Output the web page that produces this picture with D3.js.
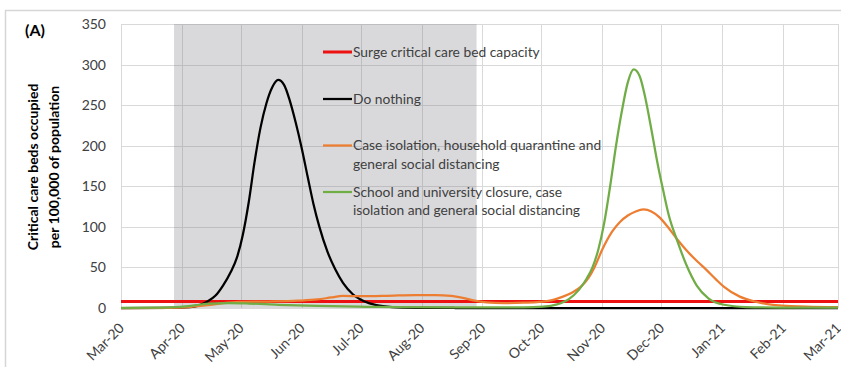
<!DOCTYPE html>
<html>
<head>
<meta charset="utf-8">
<script src="https://cdn.jsdelivr.net/npm/d3@7/dist/d3.min.js"></script>
<style>
  html, body { margin: 0; padding: 0; background: #fff; }
  svg { display: block; }
  text { font-family: Lato, "Noto Sans", sans-serif; }
</style>
</head>
<body>
<svg id="chart" width="841" height="367"></svg>
<script>
// ---- data -------------------------------------------------------------
const monthTicks = ["2020-03-01","2020-04-01","2020-05-01","2020-06-01","2020-07-01","2020-08-01",
  "2020-09-01","2020-10-01","2020-11-01","2020-12-01","2021-01-01","2021-02-01","2021-03-01"];
const monthLabels = ["Mar-20","Apr-20","May-20","Jun-20","Jul-20","Aug-20","Sep-20","Oct-20",
  "Nov-20","Dec-20","Jan-21","Feb-21","Mar-21"];
const yTicks = [0, 50, 100, 150, 200, 250, 300, 350];

// intervention window (shaded)
const shadeWindow = ["2020-03-28", "2020-08-29"];

const surgeCapacity = 8;

const doNothing = [
  ["2020-03-01",0],["2020-03-26",0.2],["2020-04-05",1],["2020-04-10",3.5],["2020-04-14",8],
  ["2020-04-18",15],["2020-04-22",28],["2020-04-26",45],["2020-04-29",62],["2020-05-02",90],
  ["2020-05-05",130],["2020-05-08",180],["2020-05-11",222],["2020-05-14",252],["2020-05-17",272],
  ["2020-05-20",281],["2020-05-23",275],["2020-05-26",255],["2020-05-29",228],["2020-06-01",197],
  ["2020-06-04",162],["2020-06-07",128],["2020-06-10",100],["2020-06-14",70],["2020-06-18",48],
  ["2020-06-22",31],["2020-06-27",17],["2020-07-03",8],["2020-07-09",3.5],["2020-07-17",1.2],
  ["2020-07-29",0.3],["2020-08-18",0],["2021-03-01",0]
];

const caseIsolation = [
  ["2020-03-01",0],["2020-03-26",0.3],["2020-04-05",1.2],["2020-04-14",3.5],["2020-04-22",6],
  ["2020-04-30",7.5],["2020-05-15",8],["2020-05-30",9],["2020-06-09",10.5],["2020-06-16",13],
  ["2020-06-22",15],["2020-07-01",14.5],["2020-07-14",15],["2020-07-29",16],["2020-08-08",16],
  ["2020-08-16",15],["2020-08-22",12.5],["2020-08-28",9],["2020-09-03",7],["2020-09-12",6],
  ["2020-09-22",6.5],["2020-09-30",7.5],["2020-10-06",9.5],["2020-10-12",14],["2020-10-17",19.5],
  ["2020-10-21",26],["2020-10-25",37],["2020-10-28",50],["2020-11-01",72],["2020-11-06",94],
  ["2020-11-10",106],["2020-11-14",114],["2020-11-18",119],["2020-11-22",121.5],["2020-11-26",119],
  ["2020-11-30",112],["2020-12-04",101],["2020-12-09",85],["2020-12-15",68],["2020-12-20",56],
  ["2020-12-24",47],["2020-12-29",35],["2021-01-02",26],["2021-01-10",14],["2021-01-18",7.8],
  ["2021-01-27",3.8],["2021-02-05",2.4],["2021-02-13",1.6],["2021-03-01",1]
];

const schoolClosure = [
  ["2020-03-01",0.2],["2020-03-21",0.5],["2020-03-31",1.5],["2020-04-08",3.5],["2020-04-15",5.5],
  ["2020-04-25",6],["2020-05-05",5.5],["2020-05-20",4],["2020-06-09",2.5],["2020-07-04",1.5],
  ["2020-07-21",1],["2020-08-18",0.8],["2020-09-22",0.8],["2020-10-02",1.6],["2020-10-09",4.5],
  ["2020-10-15",11],["2020-10-20",22],["2020-10-24",36],["2020-10-27",50],["2020-10-30",72],
  ["2020-11-02",105],["2020-11-05",150],["2020-11-08",200],["2020-11-11",243],["2020-11-14",278],
  ["2020-11-17",294],["2020-11-20",286],["2020-11-23",258],["2020-11-26",220],["2020-11-29",180],
  ["2020-12-02",145],["2020-12-05",113],["2020-12-09",84],["2020-12-14",52],["2020-12-19",28],
  ["2020-12-25",12],["2021-01-02",4],["2021-01-13",1.2],["2021-01-30",0.6],["2021-03-01",0.4]
];

const legendItems = [
  { lines: ["Surge critical care bed capacity"], color: "#ee1111", width: 3 },
  { lines: ["Do nothing"], color: "#000000", width: 2.25 },
  { lines: ["Case isolation, household quarantine and", "general social distancing"], color: "#ed7d31", width: 2.25 },
  { lines: ["School and university closure, case", "isolation and general social distancing"], color: "#70ad47", width: 2.25 }
];

// ---- layout -----------------------------------------------------------
const parse = d3.utcParse("%Y-%m-%d");
const svg = d3.select("#chart");
const plot = { left: 121, right: 838, top: 24, bottom: 308 };

const x = d3.scaleUtc()
  .domain([parse(monthTicks[0]), parse(monthTicks[monthTicks.length - 1])])
  .range([plot.left, plot.right]);
const y = d3.scaleLinear().domain([0, 350]).range([plot.bottom, plot.top]);

// outer chart frame
svg.append("rect")
  .attr("x", 5.5).attr("y", 10.5).attr("width", 900).attr("height", 400)
  .attr("fill", "none").attr("stroke", "#d6d6d6").attr("stroke-width", 1.5);

// gridlines
const grid = svg.append("g").attr("stroke", "#d9d9d9").attr("stroke-width", 1);
grid.selectAll("line.h").data(yTicks).join("line")
  .attr("x1", plot.left).attr("x2", plot.right)
  .attr("y1", d => Math.round(y(d)) + 0.5).attr("y2", d => Math.round(y(d)) + 0.5);
grid.selectAll("line.v").data(monthTicks).join("line")
  .attr("x1", d => Math.round(x(parse(d))) + 0.5).attr("x2", d => Math.round(x(parse(d))) + 0.5)
  .attr("y1", plot.top).attr("y2", plot.bottom);

// intervention window
svg.append("rect")
  .attr("x", x(parse(shadeWindow[0])))
  .attr("y", plot.top)
  .attr("width", x(parse(shadeWindow[1])) - x(parse(shadeWindow[0])))
  .attr("height", plot.bottom - plot.top)
  .attr("fill", "#7c7c84").attr("fill-opacity", 0.29);

// y tick labels
svg.append("g").selectAll("text").data(yTicks).join("text")
  .attr("x", 106).attr("y", d => y(d)).attr("dy", "0.36em")
  .attr("text-anchor", "end").attr("font-size", 14).attr("fill", "#404040")
  .text(d => d);

// x tick labels (rotated)
svg.append("g").selectAll("text").data(monthTicks).join("text")
  .attr("transform", d => `translate(${x(parse(d)) + 4},329) rotate(-45)`)
  .attr("text-anchor", "end").attr("font-size", 14).attr("fill", "#404040")
  .text((d, i) => monthLabels[i]);

// y axis title
const yTitle = svg.append("text")
  .attr("transform", "translate(0,167) rotate(-90)")
  .attr("text-anchor", "middle").attr("font-size", 14).attr("font-weight", "bold").attr("fill", "#000");
yTitle.append("tspan").attr("x", 0).attr("y", 38).text("Critical care beds occupied");
yTitle.append("tspan").attr("x", 0).attr("y", 59).text("per 100,000 of population");

// panel label
svg.append("text").attr("x", 25).attr("y", 36)
  .attr("font-size", 16).attr("font-weight", "bold").attr("fill", "#000").text("(A)");

// series
const line = d3.line()
  .x(d => x(parse(d[0])))
  .y(d => y(d[1]))
  .curve(d3.curveMonotoneX);

svg.append("line")
  .attr("x1", plot.left).attr("x2", plot.right)
  .attr("y1", y(surgeCapacity)).attr("y2", y(surgeCapacity))
  .attr("stroke", legendItems[0].color).attr("stroke-width", legendItems[0].width);

const series = [doNothing, caseIsolation, schoolClosure];
series.forEach((s, i) => {
  svg.append("path").datum(s)
    .attr("d", line)
    .attr("fill", "none")
    .attr("stroke", legendItems[i + 1].color)
    .attr("stroke-width", legendItems[i + 1].width)
    .attr("stroke-linejoin", "round");
});

// legend
const legendRows = [52, 99, 145.5, 192];
const legend = svg.append("g");
legendItems.forEach((item, i) => {
  const g = legend.append("g").attr("transform", `translate(323,${legendRows[i]})`);
  g.append("line").attr("x1", 0).attr("x2", 29)
    .attr("stroke", item.color).attr("stroke-width", item.width);
  const t = g.append("text").attr("font-size", 13.8).attr("fill", "#404040");
  item.lines.forEach((ln, j) => {
    t.append("tspan").attr("x", 30).attr("y", j * 18.5).attr("dy", "0.36em").text(ln);
  });
});
</script>
</body>
</html>
